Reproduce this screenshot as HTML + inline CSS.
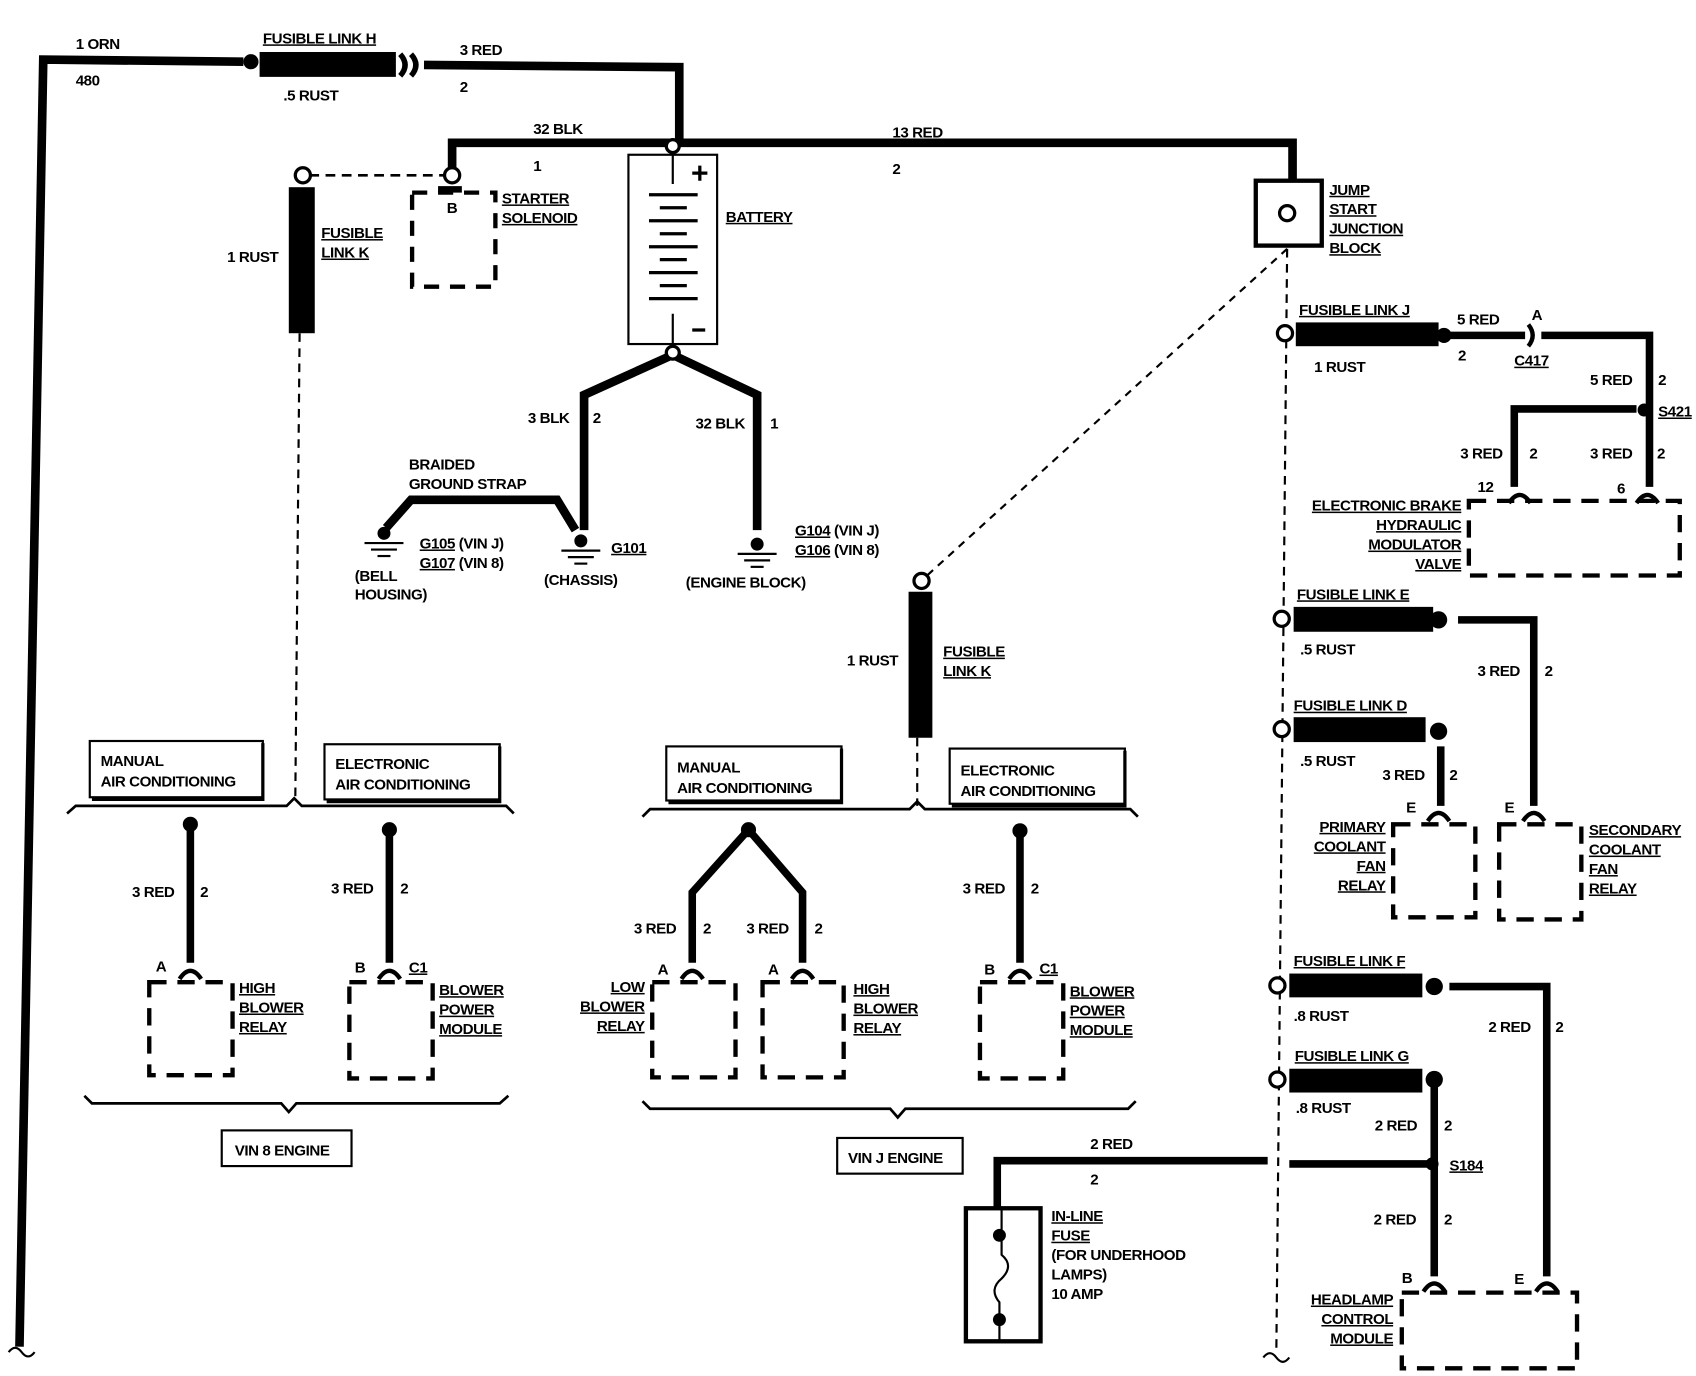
<!DOCTYPE html>
<html><head><meta charset="utf-8"><style>
html,body{margin:0;padding:0;background:#fff;}
svg{display:block}
text{font-family:"Liberation Sans",sans-serif;font-weight:bold;font-size:14px;fill:#000;letter-spacing:-0.4px}
.u{text-decoration:underline}
.r{text-anchor:end}
</style></head><body>
<svg width="1696" height="1376" viewBox="0 0 1568 1272" xmlns="http://www.w3.org/2000/svg">
<defs>
<g id="conn"><path d="M-10,7 Q0,-8 10,7" fill="none" stroke="#000" stroke-width="4"/></g>
<g id="gnd"><circle cx="0" cy="0" r="6" fill="#000"/><line x1="-18" y1="9" x2="18" y2="9" stroke="#000" stroke-width="2"/><line x1="-12" y1="15" x2="12" y2="15" stroke="#000" stroke-width="2"/><line x1="-6" y1="21" x2="6" y2="21" stroke="#000" stroke-width="2"/></g>
</defs>
<g fill="none" stroke="#000" stroke-linecap="butt" stroke-linejoin="miter">
<!-- left main wire -->
<path d="M18,1245 L40,55 L225,57" stroke-width="8"/>
<path d="M8,1250 q6,-8 12,0 q6,8 12,0" stroke-width="2"/>
<!-- link H -->
<path d="M392,60 L628,62 L628,130" stroke-width="8"/>
<path d="M370,50 q9,10 0,20 M380,50 q9,10 0,20" stroke-width="5"/>
<!-- top bus -->
<path d="M418,158 L418,132 L1195,132 L1195,167" stroke-width="8"/>
<path d="M286,162 L412,162" stroke-width="2.5" stroke-dasharray="9,6"/>
<path d="M277,308 L273,740" stroke-width="2" stroke-dasharray="8,6"/>
<!-- starter solenoid -->
<rect x="381" y="178" width="77" height="87" stroke-width="4" stroke-dasharray="14,10"/>
<!-- battery -->
<rect x="581" y="143" width="82" height="175" stroke-width="2"/>
<path d="M622,140 L622,170 M622,290 L622,322" stroke-width="2"/>
<path d="M600,180 H645 M610,192 H635 M600,204 H645 M610,216 H635 M600,228 H645 M610,240 H635 M600,252 H645 M610,264 H635 M600,276 H645" stroke-width="3"/>
<path d="M640,160 H654 M647,153 V167 M640,305 H652" stroke-width="3"/>
<!-- battery neg -->
<path d="M540,490 L540,365 L622,328 L700,365 L700,490" stroke-width="8"/>
<path d="M357,488 L380,462 L515,462 L532,490" stroke-width="8"/>
<!-- jump block -->
<rect x="1161" y="167" width="61" height="60" stroke-width="4"/>
<path d="M1190,230 L856,533" stroke-width="2" stroke-dasharray="7,6"/>
<path d="M1190,230 L1180,1250" stroke-width="2" stroke-dasharray="8,6"/>
<path d="M1168,1255 q6,-8 12,0 q6,8 12,0" stroke-width="2"/>
<path d="M848,682 L848,745" stroke-width="2" stroke-dasharray="8,6"/>
<!-- link J -->
<path d="M1340,310 L1410,310" stroke-width="7"/>
<path d="M1413,300 q8,10 0,20" stroke-width="4"/>
<path d="M1425,310 L1525,310 L1525,450" stroke-width="7"/>
<path d="M1513,378 L1400,378 L1400,450" stroke-width="7"/>
<rect x="1358" y="463" width="195" height="69" stroke-width="4" stroke-dasharray="16,10"/>
<!-- link E -->
<path d="M1348,573 L1418,573 L1418,745" stroke-width="7"/>
<rect x="1386" y="762" width="76" height="88" stroke-width="4" stroke-dasharray="16,10"/>
<!-- link D -->
<path d="M1332,690 L1332,745" stroke-width="7"/>
<rect x="1288" y="762" width="76" height="86" stroke-width="4" stroke-dasharray="16,10"/>
<!-- link F -->
<path d="M1340,912 L1430,912 L1430,1180" stroke-width="7"/>
<!-- link G -->
<path d="M1326,1005 L1326,1180" stroke-width="7"/>
<path d="M1192,1076 L1324,1076" stroke-width="7"/>
<path d="M1172,1073 L922,1073 L922,1118" stroke-width="7"/>
<rect x="1296" y="1195" width="162" height="70" stroke-width="4" stroke-dasharray="16,10"/>
<!-- in-line fuse -->
<rect x="893" y="1117" width="69" height="123" stroke-width="4"/>
<path d="M926,1118 L926,1142 L926,1160 q12,10 0,22 q-12,10 -2,22 L924,1240" stroke-width="2"/>
<!-- left bottom group -->
<rect x="83" y="685" width="160" height="52" stroke-width="2"/>
<path d="M243,687 V739 H85" stroke-width="3"/>
<rect x="300" y="688" width="162" height="51" stroke-width="2"/>
<path d="M462,690 V741 H302" stroke-width="3"/>
<path d="M62,752 L70,745 L265,745 L272,738 L279,745 L468,745 L475,752" stroke-width="2.5"/>
<path d="M176,762 L176,890 M360,767 L360,890" stroke-width="7"/>
<rect x="138" y="908" width="77" height="86" stroke-width="4" stroke-dasharray="16,10"/>
<rect x="323" y="908" width="77" height="89" stroke-width="4" stroke-dasharray="16,10"/>
<path d="M78,1013 L85,1020 L260,1020 L267,1028 L274,1020 L462,1020 L470,1013" stroke-width="2.5"/>
<rect x="205" y="1045" width="120" height="33" stroke-width="2"/>
<!-- middle group -->
<rect x="616" y="690" width="162" height="50" stroke-width="2"/>
<path d="M778,692 V742 H618" stroke-width="3"/>
<rect x="878" y="692" width="162" height="51" stroke-width="2"/>
<path d="M1040,694 V745 H880" stroke-width="3"/>
<path d="M594,755 L601,748 L841,748 L848,741 L855,748 L1045,748 L1052,755" stroke-width="2.5"/>
<path d="M640,890 L640,825 L692,767 L742,825 L742,890 M943,768 L943,890" stroke-width="7"/>
<rect x="603" y="908" width="77" height="88" stroke-width="4" stroke-dasharray="16,10"/>
<rect x="705" y="908" width="75" height="88" stroke-width="4" stroke-dasharray="16,10"/>
<rect x="906" y="908" width="77" height="89" stroke-width="4" stroke-dasharray="16,10"/>
<path d="M594,1018 L601,1025 L823,1025 L830,1033 L837,1025 L1043,1025 L1050,1018" stroke-width="2.5"/>
<rect x="774" y="1052" width="116" height="33" stroke-width="2"/>
</g>
<!-- filled parts -->
<g fill="#000">
<circle cx="232" cy="57" r="7"/><rect x="240" y="48" width="126" height="23"/>
<rect x="267" y="173" width="24" height="135"/>
<rect x="840" y="547" width="22" height="135"/>
<rect x="1198" y="298" width="132" height="22"/><circle cx="1335" cy="310" r="7"/>
<circle cx="1520" cy="379" r="6"/>
<rect x="1196" y="561" width="129" height="23"/><circle cx="1330" cy="573" r="8"/>
<rect x="1196" y="663" width="122" height="23"/><circle cx="1330" cy="676" r="8"/>
<rect x="1192" y="900" width="123" height="22"/><circle cx="1326" cy="912" r="8"/>
<rect x="1192" y="988" width="123" height="22"/><circle cx="1326" cy="998" r="8"/>
<circle cx="1324" cy="1076" r="6"/>
<circle cx="924" cy="1142" r="6"/><circle cx="924" cy="1220" r="6"/>
<circle cx="176" cy="762" r="7"/><circle cx="360" cy="767" r="7"/>
<circle cx="692" cy="767" r="7"/><circle cx="943" cy="768" r="7"/>
</g>
<g fill="#fff" stroke="#000" stroke-width="3">
<circle cx="622" cy="135" r="6"/><circle cx="622" cy="326" r="6"/>
<circle cx="280" cy="162" r="7"/><circle cx="418" cy="162" r="7"/>
<circle cx="1190" cy="197" r="7"/><circle cx="852" cy="537" r="7"/>
<circle cx="1188" cy="308" r="7"/><circle cx="1185" cy="572" r="7"/>
<circle cx="1185" cy="674" r="7"/><circle cx="1181" cy="911" r="7"/><circle cx="1181" cy="998" r="7"/>
</g>
<rect x="405" y="172" width="22" height="6" fill="#000"/>
<use href="#gnd" x="355" y="493"/><use href="#gnd" x="537" y="500"/><use href="#gnd" x="700" y="503"/>
<use href="#conn" x="1405" y="458"/><use href="#conn" x="1523" y="458"/>
<use href="#conn" x="1418" y="752"/><use href="#conn" x="1330" y="752"/>
<use href="#conn" x="1430" y="1187"/><use href="#conn" x="1326" y="1187"/>
<use href="#conn" x="176" y="898"/><use href="#conn" x="360" y="898"/>
<use href="#conn" x="640" y="898"/><use href="#conn" x="742" y="898"/><use href="#conn" x="943" y="898"/>
<!-- text -->
<text x="70" y="45">1 ORN</text><text x="70" y="79">480</text>
<text x="243" y="40" class="u">FUSIBLE LINK H</text><text x="262" y="93">.5 RUST</text>
<text x="425" y="51">3 RED</text><text x="425" y="85">2</text>
<text x="493" y="124">32 BLK</text><text x="493" y="158">1</text>
<text x="825" y="127">13 RED</text><text x="825" y="161">2</text>
<text x="210" y="242">1 RUST</text>
<text x="297" y="220" class="u">FUSIBLE</text><text x="297" y="238" class="u">LINK K</text>
<text x="413" y="197">B</text>
<text x="464" y="188" class="u">STARTER</text><text x="464" y="206" class="u">SOLENOID</text>
<text x="671" y="205" class="u">BATTERY</text>
<text x="488" y="391">3 BLK</text><text x="548" y="391">2</text>
<text x="643" y="396">32 BLK</text><text x="712" y="396">1</text>
<text x="378" y="434">BRAIDED</text><text x="378" y="452">GROUND STRAP</text>
<text x="388" y="507"><tspan class="u">G105</tspan> (VIN J)</text>
<text x="388" y="525"><tspan class="u">G107</tspan> (VIN 8)</text>
<text x="328" y="537">(BELL</text><text x="328" y="554">HOUSING)</text>
<text x="565" y="511" class="u">G101</text><text x="503" y="541">(CHASSIS)</text>
<text x="735" y="495"><tspan class="u">G104</tspan> (VIN J)</text>
<text x="735" y="513"><tspan class="u">G106</tspan> (VIN 8)</text>
<text x="634" y="543">(ENGINE BLOCK)</text>
<text x="1229" y="180" class="u">JUMP</text><text x="1229" y="198" class="u">START</text><text x="1229" y="216" class="u">JUNCTION</text><text x="1229" y="234" class="u">BLOCK</text>
<text x="783" y="615">1 RUST</text>
<text x="872" y="607" class="u">FUSIBLE</text><text x="872" y="625" class="u">LINK K</text>
<text x="1201" y="291" class="u">FUSIBLE LINK J</text><text x="1347" y="300">5 RED</text>
<text x="1416" y="296">A</text>
<text x="1215" y="344">1 RUST</text><text x="1348" y="333">2</text><text x="1400" y="338" class="u">C417</text>
<text x="1470" y="356">5 RED</text><text x="1533" y="356">2</text><text x="1533" y="385" class="u">S421</text>
<text x="1350" y="424">3 RED</text><text x="1414" y="424">2</text><text x="1470" y="424">3 RED</text><text x="1532" y="424">2</text>
<text x="1366" y="455">12</text><text x="1495" y="456">6</text>
<text x="1351" y="472" class="r u">ELECTRONIC BRAKE</text><text x="1351" y="490" class="r u">HYDRAULIC</text><text x="1351" y="508" class="r u">MODULATOR</text><text x="1351" y="526" class="r u">VALVE</text>
<text x="1199" y="554" class="u">FUSIBLE LINK E</text><text x="1202" y="605">.5 RUST</text>
<text x="1366" y="625">3 RED</text><text x="1428" y="625">2</text>
<text x="1391" y="751">E</text>
<text x="1469" y="772" class="u">SECONDARY</text><text x="1469" y="790" class="u">COOLANT</text><text x="1469" y="808" class="u">FAN</text><text x="1469" y="826" class="u">RELAY</text>
<text x="1196" y="657" class="u">FUSIBLE LINK D</text><text x="1202" y="708">.5 RUST</text>
<text x="1278" y="721">3 RED</text><text x="1340" y="721">2</text><text x="1300" y="751">E</text>
<text x="1281" y="769" class="r u">PRIMARY</text><text x="1281" y="787" class="r u">COOLANT</text><text x="1281" y="805" class="r u">FAN</text><text x="1281" y="823" class="r u">RELAY</text>
<text x="1196" y="893" class="u">FUSIBLE LINK F</text><text x="1196" y="944">.8 RUST</text>
<text x="1376" y="954">2 RED</text><text x="1438" y="954">2</text>
<text x="1197" y="981" class="u">FUSIBLE LINK G</text><text x="1198" y="1029">.8 RUST</text>
<text x="1271" y="1045">2 RED</text><text x="1335" y="1045">2</text>
<text x="1340" y="1082" class="u">S184</text>
<text x="1008" y="1062">2 RED</text><text x="1008" y="1095">2</text>
<text x="1270" y="1132">2 RED</text><text x="1335" y="1132">2</text>
<text x="1296" y="1186">B</text><text x="1400" y="1187">E</text>
<text x="1288" y="1206" class="r u">HEADLAMP</text><text x="1288" y="1224" class="r u">CONTROL</text><text x="1288" y="1242" class="r u">MODULE</text>
<text x="972" y="1129" class="u">IN-LINE</text><text x="972" y="1147" class="u">FUSE</text><text x="972" y="1165">(FOR UNDERHOOD</text><text x="972" y="1183">LAMPS)</text><text x="972" y="1201">10 AMP</text>
<text x="93" y="708">MANUAL</text><text x="93" y="727">AIR CONDITIONING</text>
<text x="310" y="711">ELECTRONIC</text><text x="310" y="730">AIR CONDITIONING</text>
<text x="122" y="829">3 RED</text><text x="185" y="829">2</text>
<text x="306" y="826">3 RED</text><text x="370" y="826">2</text>
<text x="144" y="898">A</text><text x="328" y="899">B</text><text x="378" y="899" class="u">C1</text>
<text x="221" y="918" class="u">HIGH</text><text x="221" y="936" class="u">BLOWER</text><text x="221" y="954" class="u">RELAY</text>
<text x="406" y="920" class="u">BLOWER</text><text x="406" y="938" class="u">POWER</text><text x="406" y="956" class="u">MODULE</text>
<text x="217" y="1068">VIN 8 ENGINE</text>
<text x="626" y="714">MANUAL</text><text x="626" y="733">AIR CONDITIONING</text>
<text x="888" y="717">ELECTRONIC</text><text x="888" y="736">AIR CONDITIONING</text>
<text x="586" y="863">3 RED</text><text x="650" y="863">2</text><text x="690" y="863">3 RED</text><text x="753" y="863">2</text>
<text x="890" y="826">3 RED</text><text x="953" y="826">2</text>
<text x="608" y="901">A</text><text x="710" y="901">A</text><text x="910" y="901">B</text><text x="961" y="900" class="u">C1</text>
<text x="596" y="917" class="r u">LOW</text><text x="596" y="935" class="r u">BLOWER</text><text x="596" y="953" class="r u">RELAY</text>
<text x="789" y="919" class="u">HIGH</text><text x="789" y="937" class="u">BLOWER</text><text x="789" y="955" class="u">RELAY</text>
<text x="989" y="921" class="u">BLOWER</text><text x="989" y="939" class="u">POWER</text><text x="989" y="957" class="u">MODULE</text>
<text x="784" y="1075">VIN J ENGINE</text>
</svg>
</body></html>
